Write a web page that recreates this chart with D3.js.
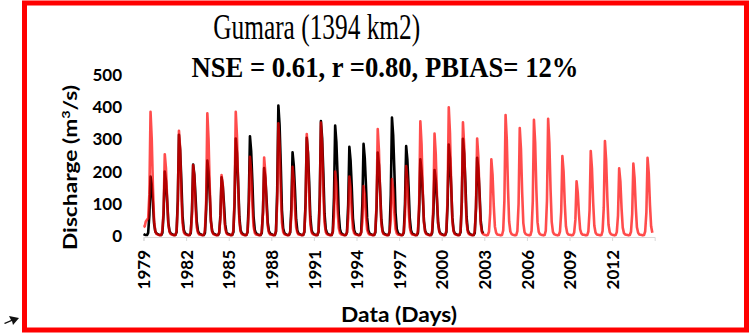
<!DOCTYPE html>
<html>
<head>
<meta charset="utf-8">
<script src="https://cdn.jsdelivr.net/npm/d3@7"></script>
<style>
  html, body { margin: 0; padding: 0; background: #fff; }
  svg { display: block; }
</style>
</head>
<body>
<svg id="chart" width="751" height="333"></svg>
<script>
// Gumara station: monthly discharge (m3/s), Jan..Dec per year
const simYears = d3.range(1979, 2015);
const simMonthly = [
  [28, 30, 45, 50, 55, 130, 386, 300, 150, 45, 14, 6],  // 1979
  [5, 3, 2, 3, 18, 80, 254, 210, 110, 35, 12, 6],       // 1980
  [4, 3, 2, 3, 16, 95, 327, 270, 130, 40, 12, 6],       // 1981
  [4, 3, 2, 3, 14, 65, 220, 185, 90, 28, 10, 5],        // 1982
  [4, 3, 2, 3, 18, 110, 381, 300, 150, 45, 14, 6],      // 1983
  [4, 3, 2, 3, 12, 55, 189, 160, 75, 24, 9, 5],         // 1984
  [4, 3, 2, 3, 18, 115, 386, 310, 155, 46, 14, 6],      // 1985
  [4, 3, 2, 3, 14, 75, 246, 200, 100, 30, 10, 5],       // 1986
  [4, 3, 2, 3, 14, 72, 244, 195, 95, 30, 10, 5],        // 1987
  [4, 3, 2, 3, 16, 105, 350, 280, 140, 42, 13, 6],      // 1988
  [4, 3, 2, 3, 13, 65, 215, 175, 85, 27, 10, 5],        // 1989
  [4, 3, 2, 3, 15, 95, 317, 255, 125, 38, 12, 6],       // 1990
  [4, 3, 2, 3, 16, 105, 352, 285, 140, 42, 13, 6],      // 1991
  [4, 3, 2, 3, 12, 60, 200, 165, 80, 25, 9, 5],         // 1992
  [4, 3, 2, 3, 12, 55, 185, 150, 75, 23, 9, 5],         // 1993
  [4, 3, 2, 3, 10, 45, 155, 130, 62, 20, 8, 4],         // 1994
  [4, 3, 2, 3, 15, 100, 332, 265, 130, 40, 12, 6],      // 1995
  [4, 3, 2, 3, 12, 52, 177, 145, 70, 22, 8, 4],         // 1996
  [4, 3, 2, 3, 13, 65, 217, 175, 85, 27, 10, 5],        // 1997
  [4, 3, 2, 3, 16, 105, 356, 285, 140, 42, 13, 6],      // 1998
  [4, 3, 2, 3, 15, 95, 318, 255, 125, 38, 12, 6],       // 1999
  [4, 3, 2, 3, 18, 120, 400, 320, 160, 48, 14, 6],      // 2000
  [4, 3, 2, 3, 16, 105, 353, 280, 140, 42, 13, 6],      // 2001
  [4, 3, 2, 3, 15, 90, 303, 245, 120, 36, 12, 6],       // 2002
  [4, 3, 2, 3, 13, 70, 238, 190, 95, 29, 10, 5],        // 2003
  [4, 3, 2, 3, 17, 110, 376, 300, 150, 45, 14, 6],      // 2004
  [4, 3, 2, 3, 15, 100, 335, 270, 135, 40, 12, 6],      // 2005
  [4, 3, 2, 3, 16, 108, 361, 290, 145, 43, 13, 6],      // 2006
  [4, 3, 2, 3, 16, 110, 364, 290, 145, 44, 13, 6],      // 2007
  [4, 3, 2, 3, 14, 75, 248, 200, 100, 30, 10, 5],       // 2008
  [4, 3, 2, 3, 11, 50, 170, 135, 68, 21, 8, 4],         // 2009
  [4, 3, 2, 3, 14, 80, 264, 210, 105, 32, 11, 5],       // 2010
  [4, 3, 2, 3, 15, 88, 295, 235, 118, 35, 12, 6],       // 2011
  [4, 3, 2, 3, 12, 63, 210, 170, 85, 26, 9, 5],         // 2012
  [4, 3, 2, 3, 13, 68, 225, 180, 90, 27, 10, 5],        // 2013
  [4, 3, 2, 3, 14, 73, 243, 195, 97, 30, 10]            // 2014 (to Nov)
];

const obsYears = d3.range(1979, 2003);
const obsMonthly = [
  [6, 4, 3, 3, 10, 65, 185, 160, 100, 38, 14, 8],       // 1979
  [6, 4, 3, 3, 10, 70, 200, 170, 110, 40, 15, 8],       // 1980
  [6, 4, 3, 3, 12, 110, 314, 265, 170, 62, 20, 9],      // 1981
  [6, 4, 3, 3, 10, 78, 222, 190, 120, 45, 16, 8],       // 1982
  [6, 4, 3, 3, 10, 82, 234, 200, 128, 47, 16, 8],       // 1983
  [6, 4, 3, 3, 9, 64, 182, 155, 100, 36, 13, 7],        // 1984
  [6, 4, 3, 3, 12, 105, 303, 258, 165, 60, 19, 9],      // 1985
  [6, 4, 3, 3, 12, 108, 310, 264, 170, 62, 20, 9],      // 1986
  [6, 4, 3, 3, 10, 74, 211, 180, 115, 42, 15, 8],       // 1987
  [6, 4, 3, 3, 14, 140, 405, 345, 220, 80, 24, 10],     // 1988
  [6, 4, 3, 3, 11, 90, 260, 220, 143, 52, 17, 8],       // 1989
  [6, 4, 3, 3, 12, 105, 305, 260, 168, 60, 19, 9],      // 1990
  [6, 4, 3, 3, 13, 125, 357, 303, 195, 70, 22, 10],     // 1991
  [6, 4, 3, 3, 13, 120, 343, 292, 188, 68, 21, 9],      // 1992
  [6, 4, 3, 3, 11, 97, 277, 235, 152, 55, 18, 8],       // 1993
  [6, 4, 3, 3, 12, 100, 286, 243, 157, 57, 18, 8],      // 1994
  [6, 4, 3, 3, 11, 90, 259, 220, 142, 52, 17, 8],       // 1995
  [6, 4, 3, 3, 13, 128, 368, 313, 202, 73, 22, 10],     // 1996
  [6, 4, 3, 3, 11, 98, 279, 237, 153, 56, 18, 8],       // 1997
  [6, 4, 3, 3, 10, 83, 238, 202, 130, 47, 16, 8],       // 1998
  [6, 4, 3, 3, 10, 72, 205, 175, 112, 41, 15, 8],       // 1999
  [6, 4, 3, 3, 12, 99, 284, 241, 156, 57, 18, 8],       // 2000
  [6, 4, 3, 3, 12, 106, 302, 257, 166, 60, 19, 9],      // 2001
  [6, 4, 3, 3, 10, 85, 243, 207, 133, 48, 16, 8]        // 2002
];

const yTicks = [0, 100, 200, 300, 400, 500];
const xTickYears = [1979, 1982, 1985, 1988, 1991, 1994, 1997, 2000, 2003, 2006, 2009, 2012];

const chartTitle = "Gumara (1394 km2)";
const statsText = "NSE = 0.61, r =0.80, PBIAS= 12%";
const xTitle = "Data (Days)";

// flatten year rows into dated points (first day of each month)
function toSeries(years, rows) {
  const out = [];
  rows.forEach((row, i) => {
    row.forEach((v, m) => out.push({ date: new Date(years[i], m, 1), q: v }));
  });
  return out;
}
const sim = toSeries(simYears, simMonthly);
const obs = toSeries(obsYears, obsMonthly);

const svg = d3.select("#chart");
const axisFont = "Lato, 'Open Sans', sans-serif";

// outer red frame
svg.append("rect")
  .attr("x", 24.5).attr("y", 3).attr("width", 722).attr("height", 327)
  .attr("fill", "none").attr("stroke", "#ff0000").attr("stroke-width", 5);

// small pointer mark at lower left
svg.append("path")
  .attr("d", "M4,323 L11,320 L9,316 L19,318 L13,325 L12,321 L5,324 Z")
  .attr("fill", "#111");

const x = d3.scaleTime()
  .domain([new Date(1979, 0, 1), new Date(2015, 0, 1)])
  .range([143.5, 143.5 + 36 * 14.2]);
const y = d3.scaleLinear().domain([0, 500]).range([236, 75]);

// x axis
const xAxis = svg.append("g")
  .attr("transform", "translate(0,237)")
  .call(d3.axisBottom(x)
    .tickValues(xTickYears.map(yr => new Date(yr, 0, 1)))
    .tickSize(4)
    .tickFormat(d3.timeFormat("%Y")));
xAxis.select(".domain").attr("stroke", "#d9d9d9");
xAxis.selectAll(".tick line").attr("stroke", "#d9d9d9");
xAxis.selectAll(".tick text")
  .attr("transform", "rotate(-90)")
  .attr("x", -13).attr("y", 0).attr("dy", "0.36em")
  .attr("text-anchor", "end")
  .attr("font-family", axisFont).attr("font-weight", 700)
  .attr("font-size", 17).attr("fill", "#000");

// y axis (labels only)
const yAxis = svg.append("g")
  .attr("transform", "translate(130,0)")
  .call(d3.axisLeft(y).tickValues(yTicks).tickSize(0).tickPadding(8));
yAxis.select(".domain").remove();
yAxis.selectAll(".tick text")
  .attr("font-family", axisFont).attr("font-weight", 700)
  .attr("font-size", 17).attr("fill", "#000");

// series: observed underneath, simulated translucent on top
const line = d3.line().x(d => x(d.date)).y(d => y(d.q)).curve(d3.curveLinear);
svg.append("path").datum(obs)
  .attr("d", line).attr("fill", "none")
  .attr("stroke", "#000").attr("stroke-width", 2.6).attr("stroke-linejoin", "round");
svg.append("path").datum(sim)
  .attr("d", line).attr("fill", "none")
  .attr("stroke", "#ff0000").attr("stroke-opacity", 0.7)
  .attr("stroke-width", 2.6).attr("stroke-linejoin", "round");

// titles
svg.append("text")
  .attr("x", 316.7).attr("y", 39.3).attr("text-anchor", "middle")
  .attr("font-family", "'Liberation Serif', 'Times New Roman', serif")
  .attr("font-size", 35).attr("textLength", 207).attr("lengthAdjust", "spacingAndGlyphs")
  .text(chartTitle);
svg.append("text")
  .attr("x", 385).attr("y", 77.3).attr("text-anchor", "middle")
  .attr("font-family", "'Liberation Serif', 'Times New Roman', serif")
  .attr("font-weight", 700)
  .attr("font-size", 30).attr("textLength", 387).attr("lengthAdjust", "spacingAndGlyphs")
  .text(statsText);

// y axis title with superscript
const yt = svg.append("text")
  .attr("transform", "translate(77,167.5) rotate(-90)")
  .attr("text-anchor", "middle")
  .attr("font-family", axisFont).attr("font-weight", 700)
  .attr("font-size", 19).attr("textLength", 165).attr("lengthAdjust", "spacingAndGlyphs");
yt.append("tspan").text("Discharge (m");
yt.append("tspan").attr("dy", -7).attr("font-size", 12).text("3");
yt.append("tspan").attr("dy", 7).text("/s)");

// x axis title
svg.append("text")
  .attr("x", 399).attr("y", 322).attr("text-anchor", "middle")
  .attr("font-family", axisFont).attr("font-weight", 700)
  .attr("font-size", 20).attr("textLength", 116).attr("lengthAdjust", "spacingAndGlyphs")
  .text(xTitle);
</script>
</body>
</html>
